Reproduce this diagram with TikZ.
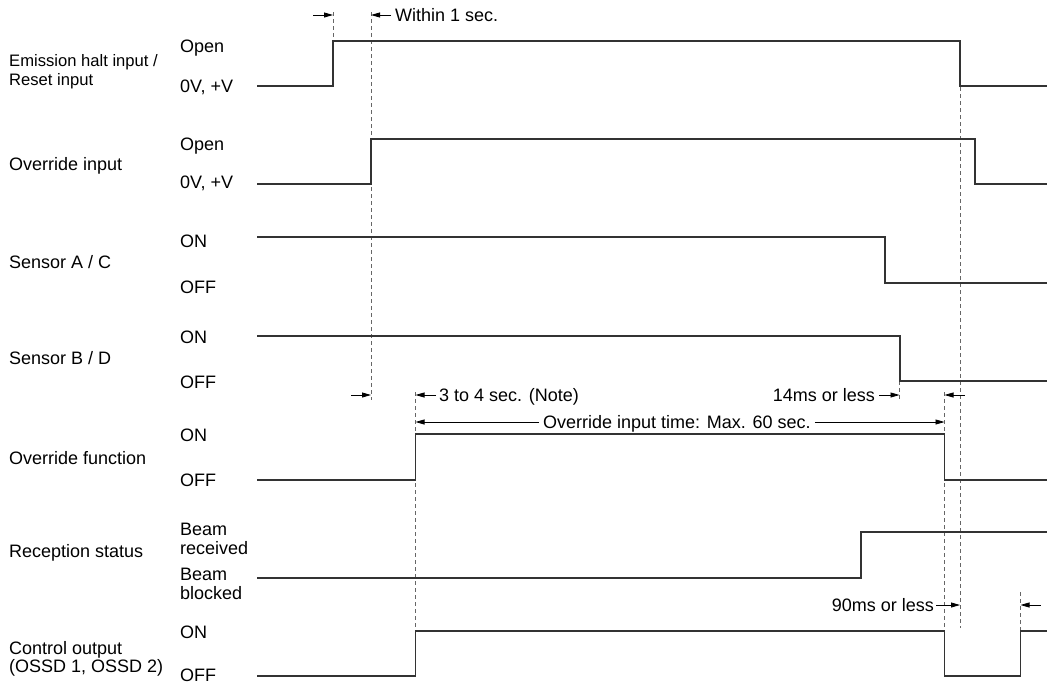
\documentclass[tikz,border=0pt]{standalone}
\usepackage{fontspec}
\setmainfont{Liberation Sans}
\usetikzlibrary{arrows.meta,positioning,calc}

\begin{document}
\begin{tikzpicture}[x=1pt, y=-1pt, >={Triangle[length=9pt,width=5pt]}, font=\fontsize{18}{18.5}\selectfont]
    \tikzset{
      sig/.style={line width=1.3pt, black!80},
      guide/.style={dash pattern=on 4pt off 3pt, line width=0.9pt, black!60},
      lvl/.style={anchor=west, inner sep=0pt, text height=12.9pt, text depth=0pt},
      two/.style={anchor=west, inner sep=0pt, align=left},
      dim/.style={->, line width=0.8pt},
    }
    \useasboundingbox (0,0) rectangle (1047,683);

    % signal names
    \node[two, font=\fontsize{16.6}{18.5}\selectfont] (emis) at (9,71.5) {Emission halt input /\\Reset input};
    \node[lvl] (ovin) at (9,164) {Override input};
    \node[lvl] (sac)  at (9,262) {Sensor A / C};
    \node[lvl] (sbd)  at (9,358) {Sensor B / D};
    \node[lvl] (ovfn) at (9,458) {Override function};
    \node[lvl] (recp) at (9,551) {Reception status};
    \node[two] (ctrl) at (9,659) {Control output\\(OSSD 1, OSSD 2)};

    % levels
    \node[lvl] (emis-hi) at (180,46)  {Open};
    \node[lvl] (emis-lo) at (180,86)  {0V, +V};
    \node[lvl] (ovin-hi) at (180,144) {Open};
    \node[lvl] (ovin-lo) at (180,182) {0V, +V};
    \node[lvl] (sac-hi)  at (180,241) {ON};
    \node[lvl] (sac-lo)  at (180,287) {OFF};
    \node[lvl] (sbd-hi)  at (180,337) {ON};
    \node[lvl] (sbd-lo)  at (180,382) {OFF};
    \node[lvl] (ovfn-hi) at (180,435) {ON};
    \node[lvl] (ovfn-lo) at (180,480) {OFF};
    \node[two] (recp-hi) at (180,539) {Beam\\received};
    \node[two] (recp-lo) at (180,584) {Beam\\blocked};
    \node[lvl] (ctrl-hi) at (180,632) {ON};
    \node[lvl] (ctrl-lo) at (180,675) {OFF};

    % guide lines
    \draw[guide] (333,12) -- (333,41);
    \draw[guide] (371,12) -- (371,400);
    \draw[guide] (415.5,392) -- (415.5,631);
    \draw[guide] (899.5,381) -- (899.5,400);
    \draw[guide] (944.5,392) -- (944.5,631);
    \draw[guide] (960,87) -- (960,628);
    \draw[guide] (1020.5,592) -- (1020.5,631);

    % waveforms
    \draw[sig] (257,86) -- (333,86) -- (333,41) -- (960,41) -- (960,86) -- (1047,86);
    \draw[sig] (257,184) -- (371,184) -- (371,139) -- (975,139) -- (975,184) -- (1047,184);
    \draw[sig] (257,237) -- (885,237) -- (885,283) -- (1047,283);
    \draw[sig] (257,336) -- (900,336) -- (900,381) -- (1047,381);
    \draw[sig] (257,480) -- (415.5,480) -- (415.5,434) -- (944.5,434) -- (944.5,480) -- (1047,480);
    \draw[sig] (257,578) -- (861,578) -- (861,532) -- (1047,532);
    \draw[sig] (257,676) -- (415.5,676) -- (415.5,631) -- (944.5,631) -- (944.5,676)
      -- (1020.5,676) -- (1020.5,631) -- (1047,631);

    % timing marks
    \coordinate (xa) at (333,0);
    \coordinate (xb) at (371,0);
    \coordinate (xc) at (415.5,0);
    \coordinate (xd) at (899.5,0);
    \coordinate (xe) at (944.5,0);
    \coordinate (xf) at (960,0);
    \coordinate (xg) at (1020.5,0);

    \node[lvl] (within) at (395,15) {Within 1 sec.};
    \draw[dim] ([xshift=-4pt]within.west) -- (within.west -| xb);
    \draw[dim] ($(within.west -| xa)+(-20,0)$) -- (within.west -| xa);

    \node[lvl] (note) at (439,395) {3 to 4 sec. (Note)};
    \draw[dim] ([xshift=-3pt]note.west) -- (note.west -| xc);
    \draw[dim] ($(note.west -| xb)+(-20,0)$) -- (note.west -| xb);

    \node[lvl] (maxin) at (543,422) {Override input time: Max. 60 sec.};
    \draw[dim] ([xshift=-4pt]maxin.west) -- (maxin.west -| xc);
    \draw[dim] ([xshift=4pt]maxin.east) -- (maxin.east -| xe);

    \node[lvl, anchor=east] (ms14) at (875,395) {14ms or less};
    \draw[dim] ([xshift=4pt]ms14.east) -- (ms14.east -| xd);
    \draw[dim] ($(ms14.east -| xe)+(20,0)$) -- (ms14.east -| xe);

    \node[lvl, anchor=east] (ms90) at (934,605) {90ms or less};
    \draw[dim] ([xshift=2pt]ms90.east) -- (ms90.east -| xf);
    \draw[dim] ($(ms90.east -| xg)+(20,0)$) -- (ms90.east -| xg);
  \end{tikzpicture}
\end{document}
